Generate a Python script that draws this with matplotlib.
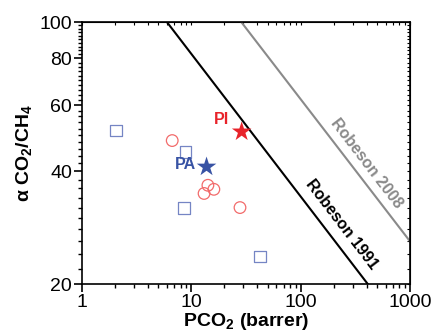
"""Robeson plot for CO2/CH4 separation."""

import matplotlib.pyplot as plt
from matplotlib.ticker import FixedLocator, MultipleLocator, NullFormatter, LogLocator

plt.rcParams["font.family"] = ["Liberation Sans", "DejaVu Sans"]
plt.rcParams["mathtext.fontset"] = "custom"
plt.rcParams["mathtext.rm"] = "Liberation Sans"
plt.rcParams["mathtext.bf"] = "Liberation Sans:bold"

# membranes (open symbols)
circle_p = [6.7, 14.2, 13.1, 16.1, 27.9]
circle_a = [48.3, 36.7, 34.9, 35.8, 32.0]
square_p = [2.05, 8.9, 8.6, 42.5]
square_a = [51.5, 45.0, 31.9, 23.7]

# highlighted polymers
star_names = ["PA", "PI"]
star_p = [13.8, 28.9]
star_a = [41.1, 51.0]
star_label_p = [8.8, 19.0]
star_label_a = [41.6, 55.0]

# upper bound end points (P, alpha)
robeson1991_p = [6.0, 411.0]
robeson1991_a = [100.0, 20.0]
robeson2008_p = [28.7, 1000.0]
robeson2008_a = [100.0, 26.0]

RED = "#E8232A"
BLUE = "#3853A4"
LIGHT_RED = "#F26B6B"
LIGHT_BLUE = "#7585C4"


def main() -> None:
    fig = plt.figure(figsize=(4.33, 3.35), dpi=100)
    ax = fig.add_axes([0.189, 0.152, 0.758, 0.782])

    ax.plot(robeson1991_p, robeson1991_a, color="black", lw=1.5)
    ax.plot(robeson2008_p, robeson2008_a, color="#8a8a8a", lw=1.5)

    ax.scatter(circle_p, circle_a, s=70, facecolors="none", edgecolors=LIGHT_RED, lw=0.9, zorder=3)
    ax.scatter(square_p, square_a, s=65, marker="s", facecolors="none", edgecolors=LIGHT_BLUE, lw=0.9, zorder=3)

    colors = [BLUE, RED]
    for name, p, a, lp, la, c in zip(star_names, star_p, star_a, star_label_p, star_label_a, colors):
        ax.scatter([p], [a], marker="*", s=220, color=c, edgecolors="none", zorder=4)
        ax.text(lp, la, name, color=c, fontsize=11.5, fontweight="bold", ha="center", va="center")

    ax.text(239, 28.9, "Robeson 1991", rotation=-52.6, fontsize=11.5, fontweight="bold",
            ha="center", va="center", color="black")
    ax.text(396, 42.1, "Robeson 2008", rotation=-52.6, fontsize=11.5, fontweight="bold",
            ha="center", va="center", color="#8a8a8a")

    ax.set_xscale("log")
    ax.set_yscale("log")
    ax.set_xlim(1, 1000)
    ax.set_ylim(20, 100)

    yt = [20, 40, 60, 80, 100]
    ax.yaxis.set_major_locator(FixedLocator(yt))
    ax.set_yticklabels([str(v) for v in yt])
    ax.yaxis.set_minor_locator(MultipleLocator(2))
    ax.yaxis.set_minor_formatter(NullFormatter())
    xt = [1, 10, 100, 1000]
    ax.xaxis.set_major_locator(FixedLocator(xt))
    ax.set_xticklabels([str(v) for v in xt])
    ax.xaxis.set_minor_locator(LogLocator(base=10, subs=range(2, 10)))
    ax.xaxis.set_minor_formatter(NullFormatter())

    ax.tick_params(which="major", direction="out", length=6, width=1.2, labelsize=14, pad=1)
    ax.tick_params(which="minor", direction="out", length=3, width=1)
    for sp in ax.spines.values():
        sp.set_linewidth(1.2)

    top = ax.secondary_xaxis("top")
    top.xaxis.set_major_locator(FixedLocator(xt))
    top.xaxis.set_minor_locator(LogLocator(base=10, subs=range(2, 10)))
    top.tick_params(which="both", direction="in", length=2.5, width=0.8, labeltop=False)
    top.xaxis.set_minor_formatter(NullFormatter())
    right = ax.secondary_yaxis("right")
    right.yaxis.set_major_locator(FixedLocator(yt))
    right.yaxis.set_minor_locator(MultipleLocator(2))
    right.tick_params(which="both", direction="in", length=2.5, width=0.8, labelright=False)
    right.yaxis.set_minor_formatter(NullFormatter())

    ax.set_xlabel("PCO$_\\mathbf{2}$ (barrer)", fontsize=14, fontweight="bold", labelpad=0)
    ax.set_ylabel("α CO$_\\mathbf{2}$/CH$_\\mathbf{4}$", fontsize=14, fontweight="bold", labelpad=3)

    fig.savefig("out.png", dpi=100)
    plt.close(fig)


if __name__ == "__main__":
    main()
